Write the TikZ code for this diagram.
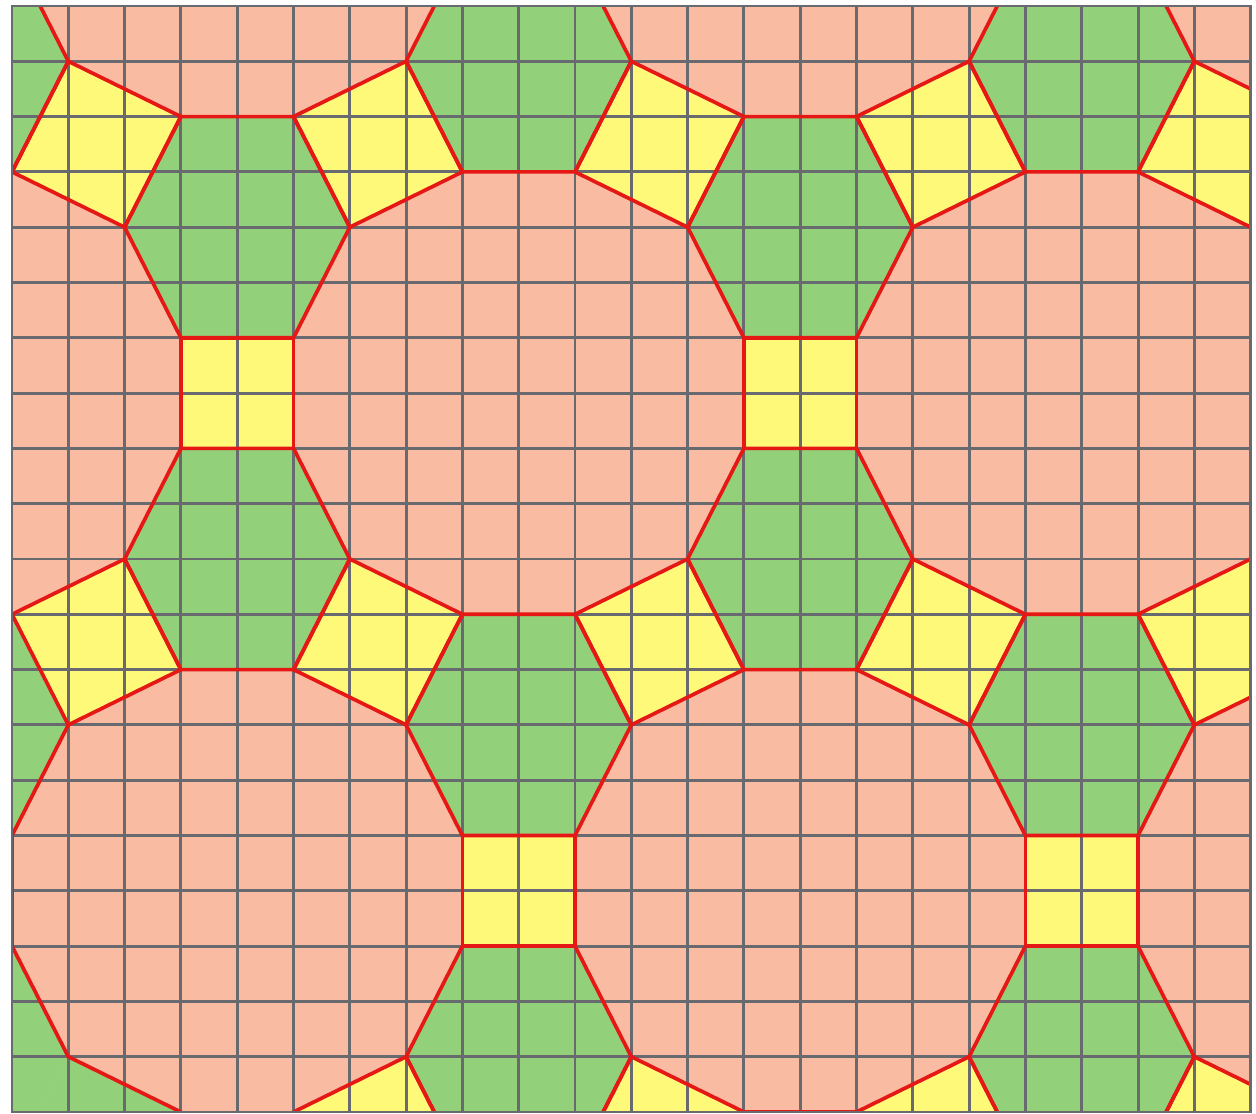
\documentclass[tikz,border=0pt]{standalone}
\usepackage{tikz}

\definecolor{dodecafill}{RGB}{249,188,162}
\definecolor{hexafill}{RGB}{147,208,122}
\definecolor{quadfill}{RGB}{255,249,122}
\definecolor{gridgray}{RGB}{105,105,112}
\definecolor{edgered}{RGB}{230,24,22}

\begin{document}
\begin{tikzpicture}[
        x=1.126cm, y=-1.106cm,
        hexagon/.style={fill=hexafill},
        quad/.style={fill=quadfill},
        tileedge/.style={draw=edgered, line width=2.1pt, line join=round},
        gridline/.style={draw=gridgray, line width=1.7pt}
    ]
        % White margins of the page
        \useasboundingbox (-0.2131,-0.1085) rectangle (22.0959,20.0362);

        \begin{scope}
        \clip (0,0) rectangle (22,20);

        % Dodecagons are the background
        \fill[dodecafill] (0,0) rectangle (22,20);

        % Hexagons and squares, one unit around each upright square
        \foreach \sx/\sy in {-1/-2, 9/-2, 19/-2, 4/7, 14/7, 24/7, -1/16, 9/16, 19/16, 14/25, 24/25} {
            \begin{scope}[shift={(\sx,\sy)}]
                \path[hexagon] (-1,-5) -- (1,-5) -- (2,-3) -- (1,-1) -- (-1,-1) -- (-2,-3) -- cycle;
                \path[hexagon] (-1,1) -- (1,1) -- (2,3) -- (1,5) -- (-1,5) -- (-2,3) -- cycle;
                \path[quad] (-1,-1) rectangle (1,1);
                \path[quad] (-1,-5) -- (-3,-6) -- (-4,-4) -- (-2,-3) -- cycle;
                \path[quad] (1,-5) -- (3,-6) -- (4,-4) -- (2,-3) -- cycle;
            \end{scope}
        }
        % Bottom left corner
        \path[hexagon] (1,19) -- (3,20) -- (3,21) -- (0,21) -- cycle;
        \path[quad] (5,20) -- (7,19) -- (8,21) -- (6,22) -- cycle;

        % Square grid
        \foreach \i in {0,...,22}
            \draw[gridline] (\i,0) -- (\i,20);
        \foreach \j in {0,...,20}
            \draw[gridline] (0,\j) -- (22,\j);

        % Red outlines of the tiles
        \foreach \sx/\sy in {-1/-2, 9/-2, 19/-2, 4/7, 14/7, 24/7, 9/16, 19/16, 14/25, 24/25} {
            \begin{scope}[shift={(\sx,\sy)}]
                \path[tileedge] (-1,-5) -- (1,-5) -- (2,-3) -- (1,-1) -- (-1,-1) -- (-2,-3) -- cycle;
                \path[tileedge] (-1,1) -- (1,1) -- (2,3) -- (1,5) -- (-1,5) -- (-2,3) -- cycle;
                \path[tileedge] (-1,-1) rectangle (1,1);
                \path[tileedge] (-1,-5) -- (-3,-6) -- (-4,-4) -- (-2,-3) -- cycle;
                \path[tileedge] (1,-5) -- (3,-6) -- (4,-4) -- (2,-3) -- cycle;
            \end{scope}
        }
        % Left edge and bottom left corner
        \path[tileedge] (0,11) -- (1,13) -- (0,15) -- (0,17) -- (1,19) -- (3,20);
        \path[tileedge] (0,11) -- (2,10) -- (3,12) -- (1,13);
        \path[tileedge] (5,20) -- (7,19) -- (8,21);
        \end{scope}

        % Outer frame
        \draw[gridline] (0,0) rectangle (22,20);
    \end{tikzpicture}
\end{document}
